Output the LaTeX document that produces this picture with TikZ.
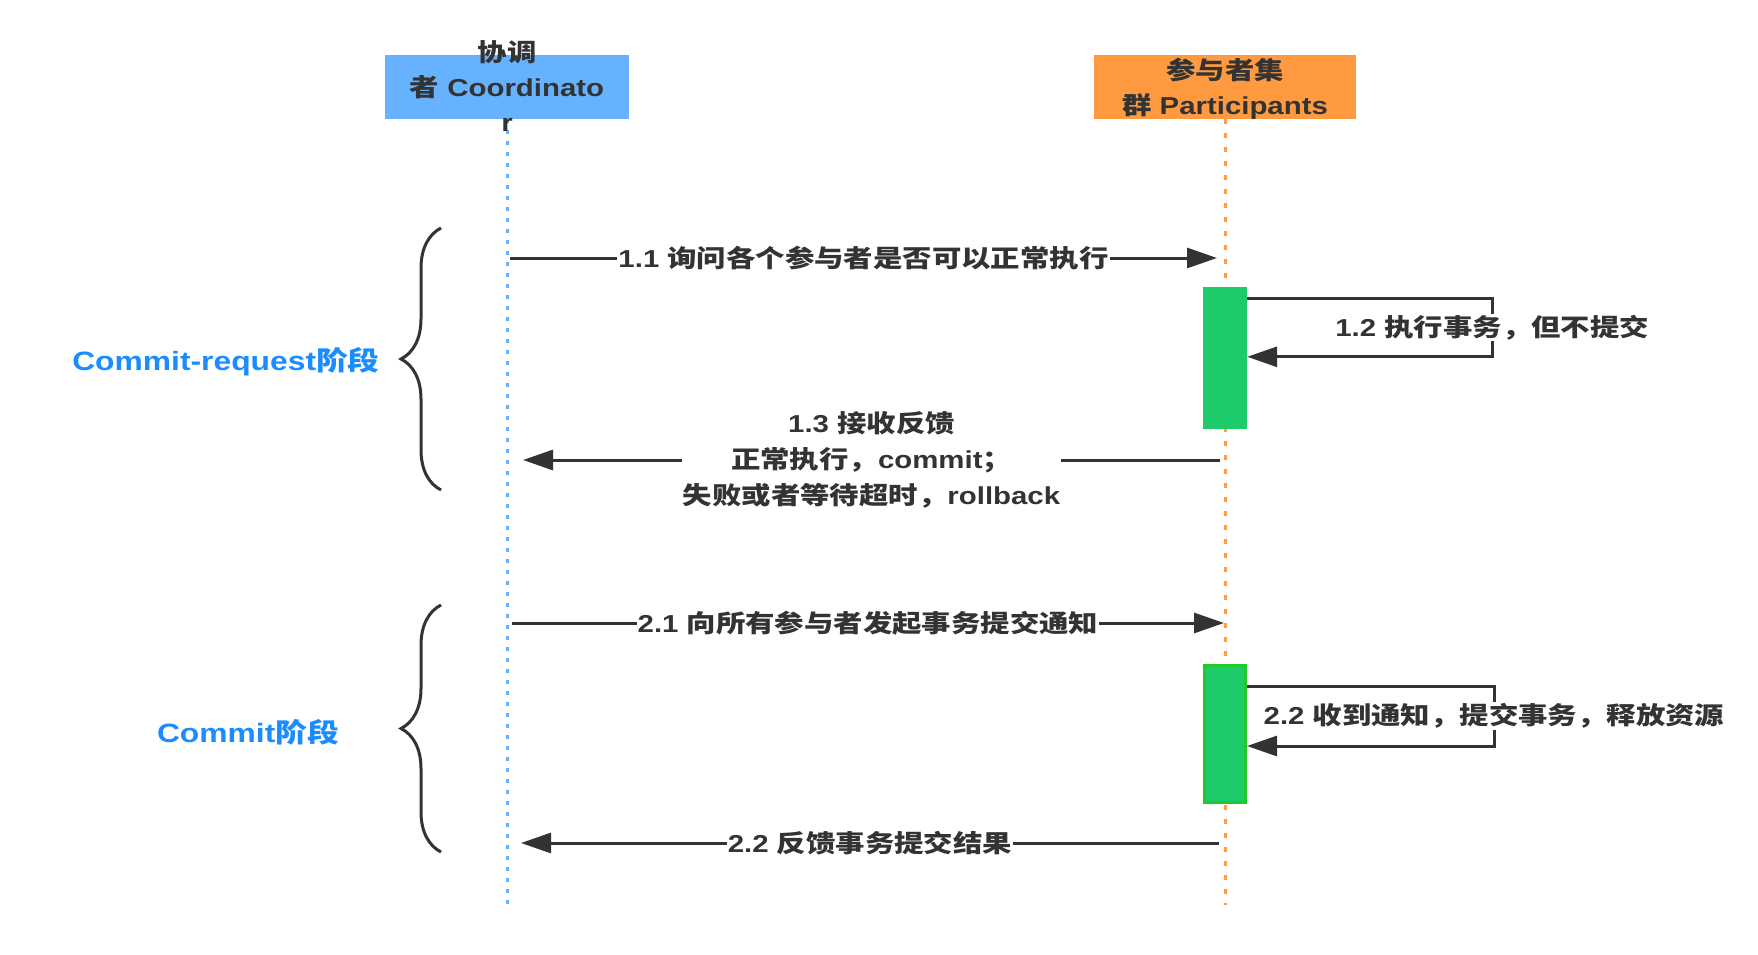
\documentclass[tikz,border=0pt]{standalone}
\usepackage{fontspec}
\setmainfont[FakeStretch=1.2]{Liberation Sans}
\newfontfamily\cjk[FakeStretch=1.2]{Noto Sans CJK SC}
\newcommand{\zh}[1]{{\cjk #1}}
\usetikzlibrary{arrows.meta,decorations.pathreplacing}

\definecolor{coordblue}{HTML}{66B2FF}
\definecolor{partorange}{HTML}{FF9A40}
\definecolor{actgreen}{HTML}{1ECB6A}
\definecolor{actborder}{HTML}{1FC92A}
\definecolor{phaseblue}{HTML}{1A8CFF}
\definecolor{txtgray}{HTML}{333333}

\tikzset{
  actorbox/.style={minimum height=64pt, inner sep=0pt},
  actortext/.style={text=txtgray, align=center, inner sep=0pt,
    font=\bfseries\fontsize{24.5}{35}\selectfont},
  lifeline/.style={line width=3pt},
  msg/.style={draw=txtgray, line width=3pt, -{Triangle[length=30pt,width=20pt]}},
  lbl/.style={fill=white, text=txtgray, inner sep=1pt, align=center,
    font=\bfseries\fontsize{24.5}{36}\selectfont},
  activation/.style={fill=actgreen, minimum width=44pt, inner sep=0pt},
  phasebrace/.style={draw=txtgray, line width=3pt,
    decorate, decoration={brace, amplitude=40pt}},
  phase/.style={text=phaseblue, font=\bfseries\fontsize{26.5}{32}\selectfont}
}

\begin{document}
\begin{tikzpicture}[x=1pt, y=-1pt]
    \useasboundingbox (0,0) rectangle (1758,955);
    \fill[white] (0,0) rectangle (1758,955);

    % Participantes
    \node[actorbox, fill=coordblue, minimum width=244pt] (coord) at (507,87) {};
    \node[actorbox, fill=partorange, minimum width=262pt] (part) at (1225,87) {};

    % Lineas de vida
    \coordinate (coordEnd) at (507,905);
    \coordinate (partEnd) at (1225,905);
    \draw[lifeline, coordblue, dash pattern=on 4pt off 7pt] (coord.south) -- (coordEnd);
    \draw[lifeline, partorange, dash pattern=on 5pt off 9pt] (part.south) -- (partEnd);

    \node[actortext] (coordLbl) at (507,86) {\zh{协调}\\\zh{者} Coordinato\\r};
    \node[actortext] (partLbl) at (1225,89) {\zh{参与者集}\\\zh{群} Participants};

    % Activaciones
    \node[activation, minimum height=142pt] (act1) at (1225,358) {};
    \node[activation, draw=actborder, line width=3pt, minimum width=41pt,
      minimum height=137pt] (act2) at (1225,734) {};

    % Fase 1
    \coordinate (m11a) at (510,258);
    \coordinate (m11b) at (1217,258);
    \draw[msg] (m11a) -- node[lbl] {1.1 \zh{询问各个参与者是否可以正常执行}} (m11b);

    \draw[msg] ([yshift=-12pt]act1.north east) -- ++(245,0)
      -- node[lbl] {1.2 \zh{执行事务，但不提交}} ++(0,58) -- ++(-245,0);

    \coordinate (m13a) at (1220,460);
    \coordinate (m13b) at (523,460);
    \draw[msg] (m13a) -- node[lbl] {1.3 \zh{接收反馈}\\\zh{正常执行，}commit\zh{；}\\\zh{失败或者等待超时，}rollback} (m13b);

    % Fase 2
    \coordinate (m21a) at (512,623);
    \coordinate (m21b) at (1224,623);
    \draw[msg] (m21a) -- node[lbl] {2.1 \zh{向所有参与者发起事务提交通知}} (m21b);

    \draw[msg] ([yshift=-22pt]act2.north east) -- ++(247,0)
      -- node[lbl] {2.2 \zh{收到通知，提交事务，释放资源}} ++(0,60) -- ++(-247,0);

    \coordinate (m22a) at (1219,843);
    \coordinate (m22b) at (521,843);
    \draw[msg] (m22a) -- node[lbl] {2.2 \zh{反馈事务提交结果}} (m22b);

    % Llaves de las fases
    \draw[phasebrace] (441,490) -- (441,228);
    \draw[phasebrace] (441,852) -- (441,605);
    \node[phase] (phase1) at (226,362) {Commit-request\zh{阶段}};
    \node[phase] (phase2) at (248,732) {Commit\zh{阶段}};
  \end{tikzpicture}
\end{document}
